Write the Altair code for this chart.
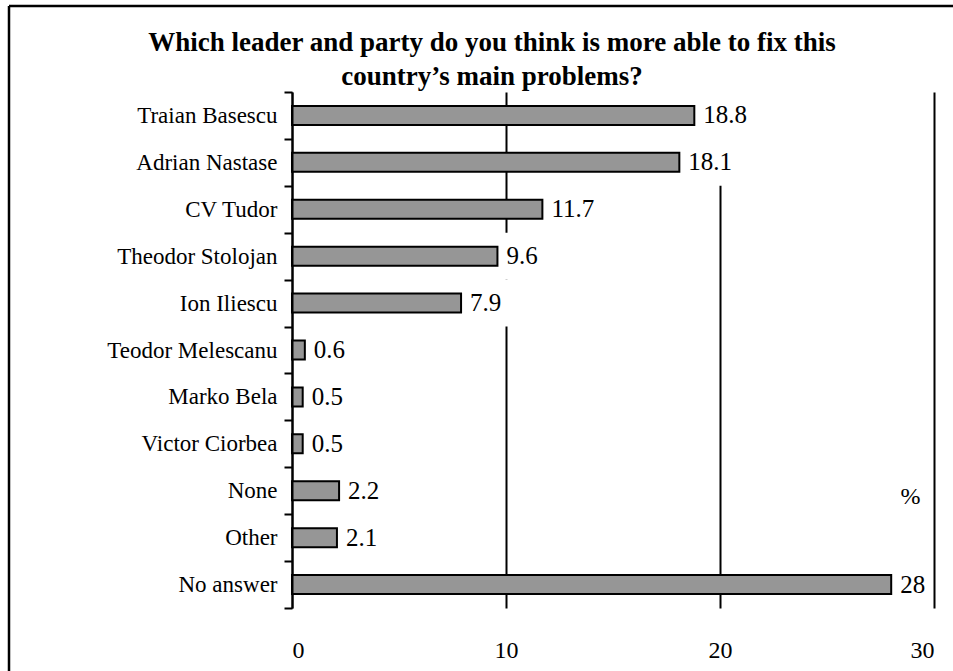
import altair as alt
import pandas as pd

# Survey answers: leader / party judged best able to fix the country's problems (%)
leaders = [
    "Traian Basescu", "Adrian Nastase", "CV Tudor", "Theodor Stolojan",
    "Ion Iliescu", "Teodor Melescanu", "Marko Bela", "Victor Ciorbea",
    "None", "Other", "No answer",
]
shares = [18.8, 18.1, 11.7, 9.6, 7.9, 0.6, 0.5, 0.5, 2.2, 2.1, 28]
x_ticks = [0, 10, 20, 30]

FONT = "Times New Roman, Liberation Serif, serif"
PLOT_W, PLOT_H = 642, 516
X_MAX = 30
PX_PER_UNIT = PLOT_W / X_MAX
LABEL_SIZE = 25

df = pd.DataFrame({"leader": leaders, "share": shares})

x_scale = alt.Scale(domain=[0, X_MAX], nice=False, zero=True)
y_scale = alt.Scale(paddingInner=0, paddingOuter=0)

x_enc = alt.X(
    "share:Q",
    scale=x_scale,
    axis=alt.Axis(
        values=x_ticks,
        domain=False,
        ticks=False,
        grid=True,
        gridColor="black",
        gridWidth=2,
        gridOpacity=1,
        labelFont=FONT,
        labelFontSize=24,
        labelColor="black",
        labelPadding=30,
        title="%",
        titleFont=FONT,
        titleFontSize=24,
        titleFontWeight="normal",
        titleColor="black",
        titleX=618,
        titleY=-124,
        titleAnchor="middle",
    ),
)
y_enc = alt.Y(
    "leader:N",
    sort=leaders,
    scale=y_scale,
    axis=alt.Axis(
        title=None,
        domainColor="black",
        domainWidth=2,
        tickColor="black",
        tickWidth=2,
        tickSize=8,
        tickBand="extent",
        labelFont=FONT,
        labelFontSize=23,
        labelColor="black",
        labelPadding=7,
        grid=False,
    ),
)

base = alt.Chart(df)

# white backing behind each value label, one full row tall, sized to the label text
label_boxes = (
    base.transform_calculate(
        txt="toString(datum.share)",
        dots="indexof(datum.txt, '.') >= 0 ? 1 : 0",
        box_end=f"datum.share + (16 + {LABEL_SIZE} * (0.5 * (length(datum.txt) - datum.dots) + 0.25 * datum.dots)) / {PX_PER_UNIT}",
    )
    .mark_rect(color="white")
    .encode(x=x_enc, x2="box_end:Q", y=y_enc)
)

bars = base.mark_bar(
    size=19, color="#969696", stroke="black", strokeWidth=2
).encode(x=x_enc, y=y_enc)

values = base.mark_text(
    align="left", baseline="middle", dx=9, font=FONT, fontSize=LABEL_SIZE, color="black"
).encode(x=x_enc, y=y_enc, text=alt.Text("share:Q"))

# outer frame around the figure
frame_df = pd.DataFrame({"k": [0]})
frame_left = alt.Chart(frame_df).mark_rule(color="black", strokeWidth=2.5).encode(
    x=alt.value(-283), y=alt.value(-86), y2=alt.value(700)
)
frame_top = alt.Chart(frame_df).mark_rule(color="black", strokeWidth=2.5).encode(
    y=alt.value(-86), x=alt.value(-283), x2=alt.value(700)
)

chart = (
    alt.layer(label_boxes, bars, values, frame_left, frame_top)
    .properties(
        width=PLOT_W,
        height=PLOT_H,
        autosize=alt.AutoSizeParams(type="none"),
        padding={"left": 292, "top": 92, "right": 19, "bottom": 63},
        background="white",
        title=alt.TitleParams(
            text=[
                "Which leader and party do you think is more able to fix this",
                "country\u2019s main problems?",
            ],
            font=FONT,
            fontSize=27,
            fontWeight="bold",
            color="black",
            anchor="middle",
            frame="group",
            dx=-121,
            dy=92,
            offset=6,
            lineHeight=34,
        ),
    )
    .configure_view(strokeOpacity=0)
)

chart.save("out.html", embed_options={"renderer": "svg", "actions": False})
